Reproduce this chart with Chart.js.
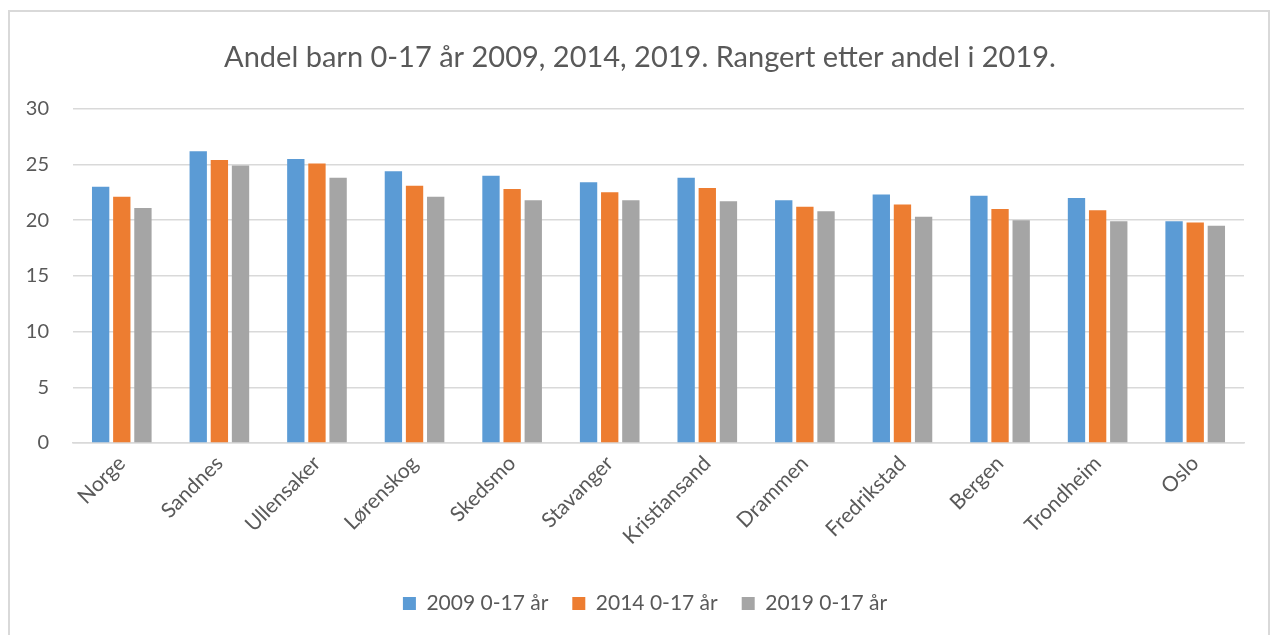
<!DOCTYPE html>
<html>
<head>
<meta charset="utf-8">
<script src="https://cdn.jsdelivr.net/npm/chart.js@4.4.1/dist/chart.umd.min.js"></script>
<style>
  html, body { margin: 0; padding: 0; background: #fff; overflow: hidden; }
  #wrap { position: relative; width: 1274px; height: 635px; }
  #frame { position: absolute; left: 8px; top: 10px; width: 1262px; height: 640px; border: 2px solid #d9d9d9; box-sizing: border-box; pointer-events: none; }
  canvas { position: absolute; left: 0; top: 0; }
</style>
</head>
<body>
<div id="wrap">
  <canvas id="c" width="1274" height="635"></canvas>
  <div id="frame"></div>
</div>
<script>
const categories = ["Norge", "Sandnes", "Ullensaker", "Lørenskog", "Skedsmo", "Stavanger", "Kristiansand", "Drammen", "Fredrikstad", "Bergen", "Trondheim", "Oslo"];
const seriesNames = ["2009 0-17 år", "2014 0-17 år", "2019 0-17 år"];
const values2009 = [23.0, 26.2, 25.5, 24.4, 24.0, 23.4, 23.8, 21.8, 22.3, 22.2, 22.0, 19.9];
const values2014 = [22.1, 25.4, 25.1, 23.1, 22.8, 22.5, 22.9, 21.2, 21.4, 21.0, 20.9, 19.8];
const values2019 = [21.1, 24.9, 23.8, 22.1, 21.8, 21.8, 21.7, 20.8, 20.3, 20.0, 19.9, 19.5];
const yTicks = [0, 5, 10, 15, 20, 25, 30];
const colors = ["#5B9BD5", "#ED7D31", "#A5A5A5"];
const titleText = "Andel barn 0-17 år 2009, 2014, 2019. Rangert etter andel i 2019.";

const FONT = "Lato, 'Open Sans', sans-serif";
const TXT = "#595959";

const seriesValues = [values2009, values2014, values2019];
const datasets = seriesNames.map((n, i) => ({
  label: n,
  data: seriesValues[i],
  backgroundColor: colors[i],
  borderWidth: 0,
  categoryPercentage: 0.65,
  barPercentage: 0.82
}));

// Center title and legend on the whole frame (not only the padded area), as in the reference
const centerShift = {
  id: "centerShift",
  afterLayout(chart) {
    const lg = chart.legend;
    if (lg) { lg.left += 23; lg.right += 23; }
    const tb = chart.titleBlock;
    if (tb) { tb.left += 18; tb.right += 18; }
  }
};

new Chart(document.getElementById("c"), {
  type: "bar",
  data: { labels: categories, datasets },
  plugins: [centerShift],
  options: {
    responsive: false,
    animation: false,
    layout: { padding: { top: 40, right: 30, bottom: 11, left: 0 } },
    plugins: {
      title: {
        display: true,
        text: titleText,
        color: TXT,
        font: { family: FONT, size: 29, weight: "normal" },
        padding: { top: 0, bottom: 34 }
      },
      legend: {
        position: "bottom",
        labels: {
          color: TXT,
          font: { family: FONT, size: 21 },
          boxWidth: 13,
          boxHeight: 13,
          padding: 24
        }
      },
      tooltip: { enabled: false }
    },
    scales: {
      x: {
        grid: { display: false, drawTicks: false },
        border: { color: "#d9d9d9", width: 1.5 },
        ticks: {
          color: TXT,
          font: { family: FONT, size: 21 },
          minRotation: 45,
          maxRotation: 45,
          autoSkip: false,
          padding: 8
        },
        afterFit: (s) => { s.height = 126; }
      },
      y: {
        min: 0,
        max: 30,
        afterBuildTicks: (s) => { s.ticks = yTicks.map(v => ({ value: v })); },
        grid: { color: "#d9d9d9", lineWidth: 1.5, drawTicks: false },
        border: { display: false },
        ticks: {
          color: TXT,
          font: { family: FONT, size: 20 },
          padding: 24
        },
        afterFit: (s) => { s.width = 73; }
      }
    }
  }
});
</script>
</body>
</html>
